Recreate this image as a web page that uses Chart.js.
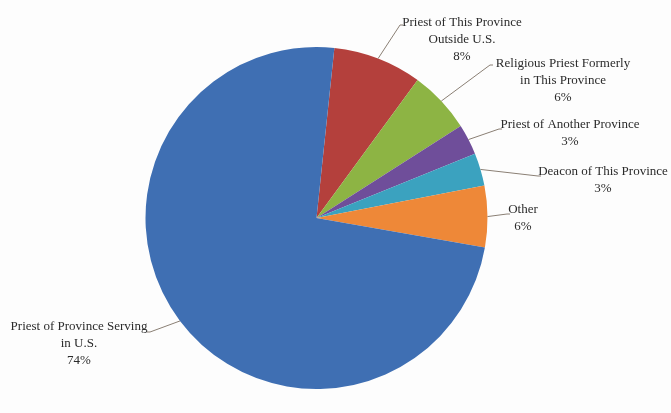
<!DOCTYPE html>
<html>
<head>
<meta charset="utf-8">
<script src="https://cdn.jsdelivr.net/npm/chart.js@4.4.1/dist/chart.umd.min.js"></script>
<style>
  html, body { margin: 0; padding: 0; background: #fdfdfd; }
  #wrap { width: 671px; height: 413px; }
</style>
</head>
<body>
<div id="wrap"><canvas id="chart" width="671" height="413"></canvas></div>
<script>
const categories = [
  ["Priest of This Province", "Outside U.S."],
  ["Religious Priest Formerly", "in This Province"],
  ["Priest of Another Province"],
  ["Deacon of This Province"],
  ["Other"],
  ["Priest of Province Serving", "in U.S."]
];
const shares = [8.4, 5.9, 2.9, 3.1, 5.8, 73.9];
const colors = ["#b4403c", "#8db444", "#6f4e9a", "#3ba2bf", "#ee8838", "#3f6fb3"];

// where each label sits (text centre of first line) and where its leader line ends
const labelSpots = [
  { x: 462, y: 23, lx: 400, ly: 25 },
  { x: 563, y: 64, lx: 490, ly: 65 },
  { x: 570, y: 125, lx: 499, ly: 129 },
  { x: 603, y: 172, lx: 538, ly: 176 },
  { x: 523, y: 210, lx: 507, ly: 214 },
  { x: 79, y: 327, lx: 150, ly: 332 }
];

const pieLabels = {
  id: "pieLabels",
  afterDatasetsDraw(chart) {
    const c = chart.ctx;
    const arcs = chart.getDatasetMeta(0).data;
    c.save();
    c.font = "13px 'Liberation Serif', 'Times New Roman', serif";
    c.textAlign = "center";
    c.textBaseline = "middle";
    arcs.forEach((arc, i) => {
      const p = arc.getProps(["x", "y", "startAngle", "endAngle", "outerRadius"], true);
      const mid = (p.startAngle + p.endAngle) / 2;
      const ex = p.x + Math.cos(mid) * p.outerRadius;
      const ey = p.y + Math.sin(mid) * p.outerRadius;
      const s = labelSpots[i];
      c.strokeStyle = "#8a7f74";
      c.lineWidth = 1;
      c.beginPath();
      c.moveTo(ex, ey);
      c.lineTo(s.lx, s.ly);
      c.lineTo(s.lx + (s.lx < p.x ? -3 : 3), s.ly);
      c.stroke();
      c.fillStyle = "#2b2b2b";
      const lines = categories[i].concat([Math.round(shares[i]) + "%"]);
      lines.forEach((t, k) => c.fillText(t, s.x, s.y + k * 17));
    });
    c.restore();
  }
};

new Chart(document.getElementById("chart"), {
  type: "pie",
  data: {
    labels: categories.map(l => l.join(" ")),
    datasets: [{ data: shares, backgroundColor: colors, borderWidth: 0 }]
  },
  options: {
    responsive: false,
    animation: false,
    rotation: 6,
    layout: { padding: { left: 100, right: 138, top: 47, bottom: 24 } },
    plugins: { legend: { display: false }, tooltip: { enabled: false } }
  },
  plugins: [pieLabels]
});
</script>
</body>
</html>
